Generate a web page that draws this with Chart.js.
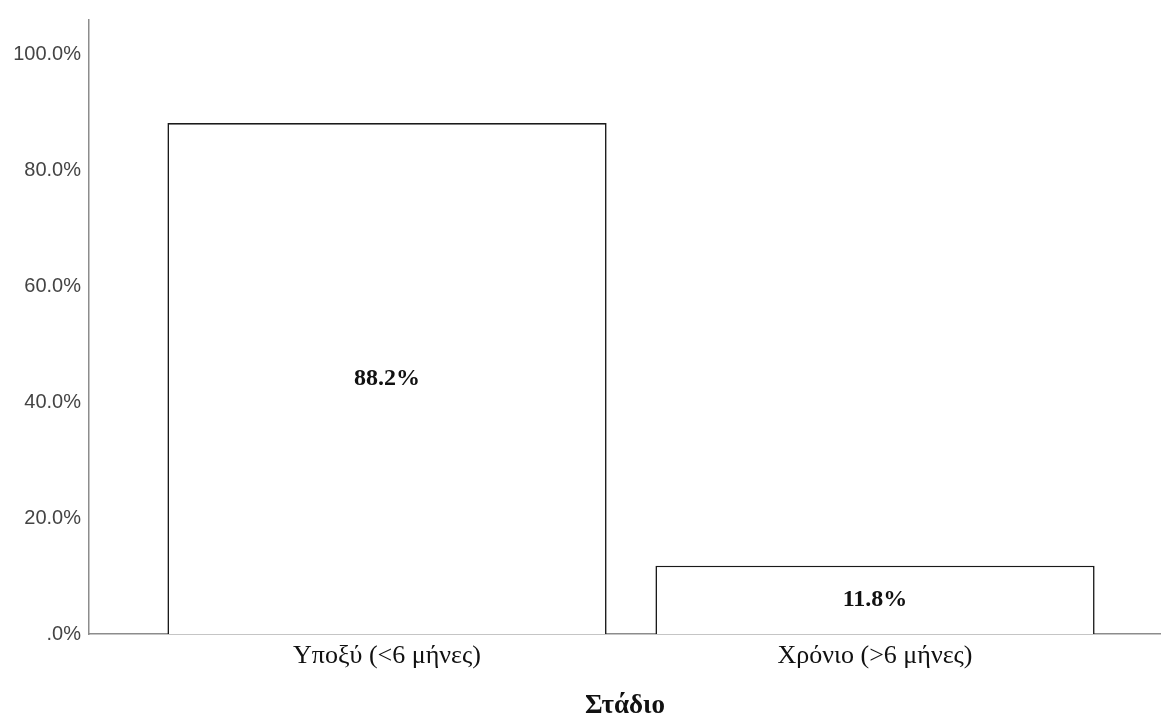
<!DOCTYPE html>
<html>
<head>
<meta charset="utf-8">
<script src="https://cdn.jsdelivr.net/npm/chart.js@4.4.1/dist/chart.umd.min.js"></script>
<style>
  html, body { margin: 0; padding: 0; background: #ffffff; }
  #wrap { width: 1161px; height: 722px; position: relative; }
</style>
</head>
<body>
<div id="wrap"><canvas id="c" width="1161" height="722"></canvas></div>
<script>
const categories = ['Υποξύ (<6 μήνες)', 'Χρόνιο (>6 μήνες)'];
const percentValues = [88.2, 11.8];
const valueLabels = ['88.2%', '11.8%'];
const yTickValues = [0, 20, 40, 60, 80, 100];
const yTickLabels = ['.0%', '20.0%', '40.0%', '60.0%', '80.0%', '100.0%'];
const xAxisTitle = 'Στάδιο';

const barLabelPlugin = {
  id: 'barLabels',
  afterDatasetsDraw(chart) {
    const ctx = chart.ctx;
    const meta = chart.getDatasetMeta(0);
    ctx.save();
    ctx.font = 'bold 24px "Liberation Serif", "Times New Roman", serif';
    ctx.fillStyle = '#111';
    ctx.textAlign = 'center';
    ctx.textBaseline = 'middle';
    meta.data.forEach((bar, i) => {
      const cy = (bar.y + bar.base) / 2;
      ctx.fillText(valueLabels[i], bar.x, cy);
    });
    ctx.restore();
  }
};

new Chart(document.getElementById('c'), {
  type: 'bar',
  data: {
    datasets: [{
      data: categories.map((c, i) => ({ x: i, y: percentValues[i] })),
      backgroundColor: '#ffffff',
      borderColor: '#1a1a1a',
      borderWidth: 1.6,
      categoryPercentage: 1.0,
      barPercentage: 0.9
    }]
  },
  options: {
    responsive: false,
    animation: false,
    layout: { padding: { left: 0, right: 0, top: 15, bottom: 0 } },
    plugins: { legend: { display: false }, tooltip: { enabled: false } },
    scales: {
      x: {
        type: 'linear',
        offset: false,
        min: -0.6107,
        max: 1.586,
        grid: { display: false, drawTicks: false, offset: false },
        border: { display: true, color: '#8c8c8c', width: 1.5 },
        afterBuildTicks(scale) {
          scale.ticks = categories.map((c, i) => ({ value: i }));
        },
        afterFit(scale) { scale.height = 88; },
        ticks: {
          padding: 7,
          color: '#111',
          font: { family: '"Liberation Serif", "Times New Roman", serif', size: 26 },
          autoSkip: false,
          maxRotation: 0,
          callback: (v) => categories[v] ?? ''
        },
        title: {
          display: true,
          text: xAxisTitle,
          color: '#111',
          font: { family: '"Liberation Serif", "Times New Roman", serif', size: 27, weight: 'bold' },
          padding: { top: 0, bottom: 0 }
        }
      },
      y: {
        min: 0,
        max: 106,
        grid: { display: false, drawTicks: false },
        border: { display: true, color: '#8c8c8c', width: 1.5 },
        afterBuildTicks(scale) {
          scale.ticks = yTickValues.map(v => ({ value: v }));
        },
        afterFit(scale) { scale.width = 89; },
        ticks: {
          padding: 8,
          color: '#444',
          font: { family: '"Liberation Sans", Arial, sans-serif', size: 20 },
          callback: (v) => yTickLabels[yTickValues.indexOf(v)] ?? ''
        }
      }
    }
  },
  plugins: [barLabelPlugin]
});
</script>
</body>
</html>
